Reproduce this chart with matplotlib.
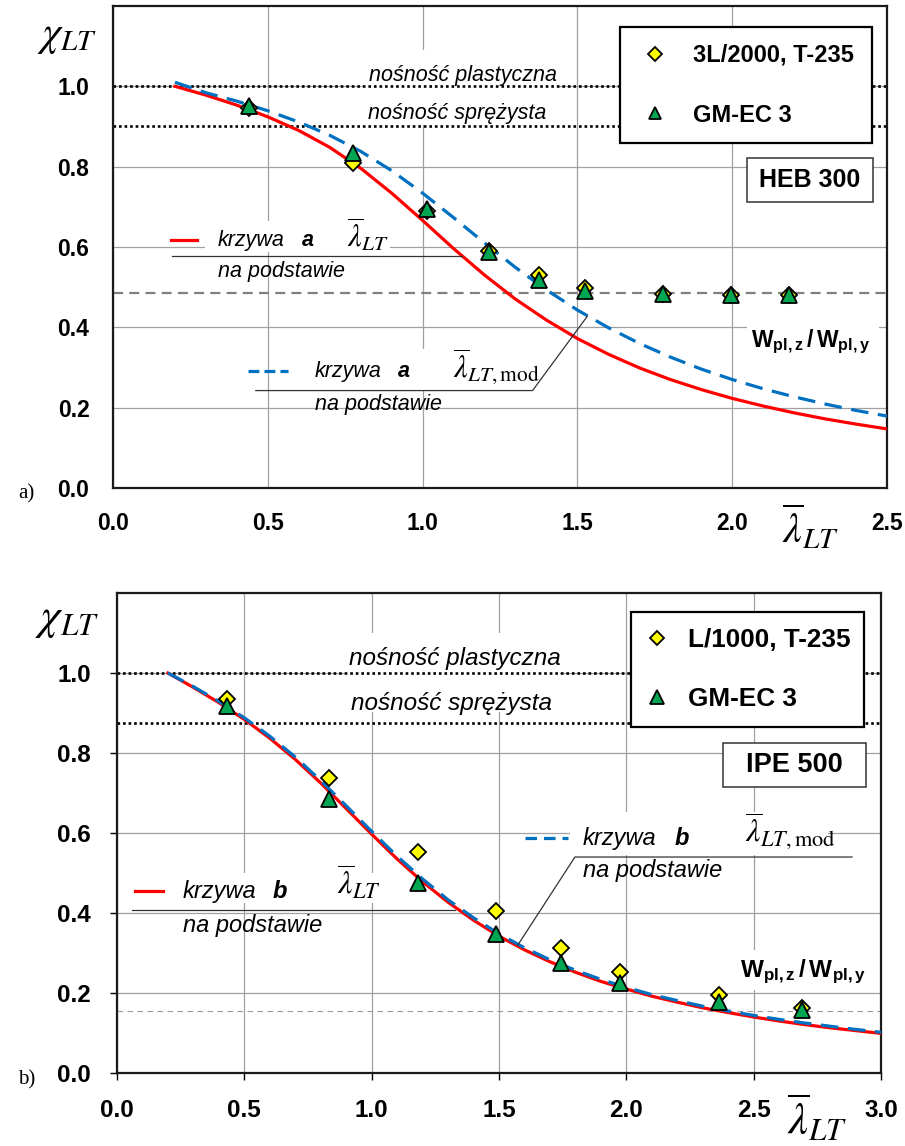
import matplotlib
matplotlib.use('Agg')
import matplotlib.pyplot as plt
from matplotlib.patches import Rectangle

plt.rcParams['font.family'] = ['Liberation Sans', 'DejaVu Sans']
plt.rcParams['mathtext.fontset'] = 'custom'
plt.rcParams['mathtext.rm'] = 'Liberation Sans:bold'
plt.rcParams['mathtext.bf'] = 'Liberation Sans:bold'
plt.rcParams['mathtext.it'] = 'Liberation Sans:bold:italic'

# ---- a) HEB 300 ----
lam_a = [0.2, 0.3, 0.4, 0.5, 0.6, 0.7, 0.8, 0.9, 1.0, 1.1, 1.2, 1.3,
         1.4, 1.5, 1.6, 1.7, 1.8, 1.9, 2.0, 2.1, 2.2, 2.3, 2.4, 2.5]
chi_a = [1.0, 0.978, 0.953, 0.924, 0.890, 0.848, 0.796, 0.734, 0.666, 0.596, 0.530, 0.470,
         0.418, 0.372, 0.333, 0.299, 0.270, 0.245, 0.223, 0.204, 0.187, 0.172, 0.159, 0.147]
chi_a_mod = [1.01, 0.984, 0.963, 0.939, 0.911, 0.878, 0.838, 0.790, 0.734, 0.673, 0.610, 0.549,
             0.493, 0.443, 0.399, 0.360, 0.326, 0.296, 0.270, 0.247, 0.227, 0.209, 0.193, 0.179]
lam_pts_a = [0.44, 0.775, 1.015, 1.215, 1.375, 1.525, 1.775, 1.995, 2.185]
chi_3l_2000 = [0.945, 0.81, 0.69, 0.59, 0.53, 0.497, 0.483, 0.48, 0.48]
chi_gm_a = [0.95, 0.835, 0.695, 0.587, 0.518, 0.49, 0.483, 0.48, 0.48]
w_ratio_a = 0.485
plast_a, elast_a = 1.0, 0.9

# ---- b) IPE 500 ----
lam_b = [0.2, 0.3, 0.4, 0.5, 0.6, 0.7, 0.8, 0.9, 1.0, 1.1, 1.2, 1.3, 1.4, 1.5, 1.6,
         1.7, 1.8, 1.9, 2.0, 2.1, 2.2, 2.3, 2.4, 2.5, 2.6, 2.7, 2.8, 2.9, 3.0]
chi_b = [1.0, 0.964, 0.926, 0.884, 0.837, 0.784, 0.725, 0.661, 0.597, 0.535, 0.478, 0.427,
         0.382, 0.342, 0.308, 0.278, 0.252, 0.229, 0.210, 0.192, 0.177, 0.163, 0.151, 0.140,
         0.130, 0.121, 0.113, 0.106, 0.099]
chi_b_mod = [1.0, 0.966, 0.929, 0.888, 0.842, 0.790, 0.731, 0.668, 0.604, 0.542, 0.485, 0.433,
             0.388, 0.348, 0.313, 0.283, 0.257, 0.234, 0.214, 0.196, 0.181, 0.167, 0.155, 0.144,
             0.134, 0.125, 0.117, 0.109, 0.102]
lam_pts_b = [0.432, 0.832, 1.18, 1.488, 1.743, 1.975, 2.364, 2.69]
chi_l_1000 = [0.935, 0.738, 0.553, 0.405, 0.313, 0.253, 0.195, 0.163]
chi_gm_b = [0.918, 0.685, 0.475, 0.348, 0.275, 0.225, 0.178, 0.158]
w_ratio_b = 0.155
plast_b, elast_b = 1.0, 0.875

RED = '#ff0000'
BLUE = '#0070c0'
YELLOW = '#ffff00'
GREEN = '#00a651'
LAM = r'$\overline{\lambda}_{LT}$'
LAM_MOD = r'$\overline{\lambda}_{LT,\mathrm{mod}}$'
W_RATIO = r'$\mathbf{W}_{\mathbf{pl,z}}\mathbf{\,/\,W}_{\mathbf{pl,y}}$'


def white_box(ax, x0, x1, y0, y1):
    ax.add_patch(Rectangle((x0, y0), x1 - x0, y1 - y0, facecolor='white',
                           edgecolor='none', zorder=1))


def name_box(ax, x0, x1, y0, y1, name, fs):
    ax.add_patch(Rectangle((x0, y0), x1 - x0, y1 - y0, transform=ax.transAxes,
                           facecolor='white', edgecolor='#333333', lw=1.1, zorder=7))
    ax.text((x0 + x1) / 2, (y0 + y1) / 2, name, transform=ax.transAxes, fontsize=fs,
            fontweight='bold', ha='center', va='center', zorder=8)


def setup(ax, xmax, fs, tick_len, pad):
    ax.set_xlim(0, xmax)
    ax.set_ylim(0, 1.2)
    ax.set_xticks([i * 0.5 for i in range(int(xmax / 0.5) + 1)])
    ax.set_yticks([0.0, 0.2, 0.4, 0.6, 0.8, 1.0])
    ax.xaxis.set_major_formatter('{x:.1f}')
    ax.yaxis.set_major_formatter('{x:.1f}')
    ax.set_axisbelow(True)
    ax.grid(True, color='#a0a0a0', lw=0.9)
    ax.tick_params(labelsize=fs, length=tick_len, width=1, pad=pad)
    for lab in ax.get_xticklabels() + ax.get_yticklabels():
        lab.set_fontweight('bold')
    for sp in ax.spines.values():
        sp.set_linewidth(1.6)
        sp.set_color('#1a1a1a')


def curves(ax, lam, chi, chi_mod, ratio, ratio_style, plast, elast):
    ax.axhline(plast, color='black', ls=(0, (1, 1.1)), lw=1.9, zorder=2)
    ax.axhline(elast, color='black', ls=(0, (1, 1.1)), lw=1.9, zorder=2)
    ax.axhline(ratio, zorder=2, **ratio_style)
    ax.plot(lam, chi, color=RED, lw=2.3, zorder=3)
    ax.plot(lam, chi_mod, color=BLUE, lw=2.3, dashes=(5.5, 3), zorder=3)


def points(ax, lam, chi_d, chi_t, ms, label_d):
    ax.plot(lam, chi_d, ls='none', marker='D', ms=ms * 0.72, mfc=YELLOW, mec='black',
            mew=1.3, zorder=5, label=label_d)
    ax.plot(lam, chi_t, ls='none', marker='^', ms=ms, mfc=GREEN, mec='black',
            mew=1.3, zorder=6, label='GM-EC 3')


fig = plt.figure(figsize=(9.05, 11.46), dpi=100)
ax1 = fig.add_axes([0.1249, 0.5742, 0.8552, 0.4206])
ax2 = fig.add_axes([0.1293, 0.0637, 0.8442, 0.4188])

# ================= a) =================
setup(ax1, 2.5, 16.5, 0, 17)
curves(ax1, lam_a, chi_a, chi_a_mod, w_ratio_a,
       dict(color='#808080', lw=1.6, dashes=(4.5, 2.8)), plast_a, elast_a)
points(ax1, lam_pts_a, chi_3l_2000, chi_gm_a, 11, '3L/2000, T-235')

white_box(ax1, 0.813, 1.442, 0.9025, 1.09)
ax1.text(1.129, 1.0125, 'nośność plastyczna', style='italic', fontsize=15.5, ha='center',
         va='baseline', zorder=1.5)
ax1.text(1.113, 0.9175, 'nośność sprężysta', style='italic', fontsize=15.5, ha='center',
         va='baseline', zorder=1.5)

# curve a, lambda_LT
white_box(ax1, 0.297, 0.894, 0.5875, 0.665)
ax1.plot([0.187, 0.271], [0.6175, 0.6175], color=RED, lw=2.3, zorder=3)
ax1.text(0.339, 0.615, 'krzywa', style='italic', fontsize=15.5, va='center')
ax1.text(0.61, 0.615, 'a', style='italic', fontweight='bold', fontsize=15.5, va='center')
ax1.text(0.755, 0.60, LAM, math_fontfamily='stix', fontsize=22, va='baseline')
ax1.plot([0.19, 1.126], [0.5775, 0.5775], color='#333333', lw=0.9, zorder=3)
ax1.text(0.339, 0.54, 'na podstawie', style='italic', fontsize=15.5, va='center')

# curve a, lambda_LT,mod
white_box(ax1, 0.6, 1.35, 0.245, 0.345)
ax1.plot([0.435, 0.565], [0.29, 0.29], color=BLUE, lw=2.3, dashes=(3.4, 1.6), zorder=3)
ax1.text(0.652, 0.29, 'krzywa', style='italic', fontsize=15.5, va='center')
ax1.text(0.919, 0.29, 'a', style='italic', fontweight='bold', fontsize=15.5, va='center')
ax1.text(1.097, 0.275, LAM_MOD, math_fontfamily='stix', fontsize=22, va='baseline')
ax1.plot([0.461, 1.355, 1.532], [0.2425, 0.2425, 0.4275], color='#333333', lw=0.9, zorder=3)
ax1.text(0.652, 0.2075, 'na podstawie', style='italic', fontsize=15.5, va='center')

white_box(ax1, 2.048, 2.474, 0.3325, 0.445)
ax1.text(2.255, 0.365, W_RATIO, fontsize=16.5, ha='center', va='center')

name_box(ax1, 0.819, 0.982, 0.593, 0.685, 'HEB 300', 18)
leg1 = ax1.legend(loc='upper left', bbox_to_anchor=(0.655, 0.714, 0.326, 0.242),
                  mode='expand', borderaxespad=0, markerscale=0.85, handlelength=1.56,
                  handletextpad=0.82, borderpad=0.71, labelspacing=1.55, fancybox=False,
                  edgecolor='black', framealpha=1, prop=dict(weight='bold', size=17))
leg1.get_frame().set_linewidth(1.6)

ax1.text(-0.059, 0.938, r'$\chi_{LT}$', math_fontfamily='stix', fontsize=30,
         transform=ax1.transAxes, ha='center', va='center')
ax1.text(0.9005, -0.083, LAM, math_fontfamily='stix', fontsize=30,
         transform=ax1.transAxes, ha='center', va='center')

# ================= b) =================
setup(ax2, 3.0, 17.5, 5, 14)
ax2.tick_params(direction='out')
curves(ax2, lam_b, chi_b, chi_b_mod, w_ratio_b,
       dict(color='#999999', lw=0.8, dashes=(5, 4)), plast_b, elast_b)
points(ax2, lam_pts_b, chi_l_1000, chi_gm_b, 12, 'L/1000, T-235')

white_box(ax2, 0.895, 1.739, 0.9025, 1.1)
ax2.text(1.327, 1.02, 'nośność plastyczna', style='italic', fontsize=17.5, ha='center',
         va='baseline', zorder=1.5)
ax2.text(1.315, 0.9075, 'nośność sprężysta', style='italic', fontsize=17.5, ha='center',
         va='baseline', zorder=1.5)

# curve b, lambda_LT
white_box(ax2, 0.188, 1.033, 0.425, 0.5)
ax2.plot([0.071, 0.181], [0.455, 0.455], color=RED, lw=2.3, zorder=3)
ax2.text(0.259, 0.455, 'krzywa', style='italic', fontsize=17, va='center')
ax2.text(0.612, 0.455, 'b', style='italic', fontweight='bold', fontsize=17, va='center')
ax2.text(0.864, 0.445, LAM, math_fontfamily='stix', fontsize=23, va='baseline')
ax2.plot([0.059, 1.327], [0.4075, 0.4075], color='#333333', lw=0.9, zorder=3)
ax2.text(0.259, 0.37, 'na podstawie', style='italic', fontsize=17, va='center')

# curve b, lambda_LT,mod
white_box(ax2, 1.779, 2.79, 0.545, 0.6525)
ax2.plot([1.602, 1.771], [0.5875, 0.5875], color=BLUE, lw=2.3, dashes=(3.6, 2.2), zorder=3)
ax2.text(1.83, 0.5875, 'krzywa', style='italic', fontsize=17, va='center')
ax2.text(2.19, 0.5875, 'b', style='italic', fontweight='bold', fontsize=17, va='center')
ax2.text(2.466, 0.5775, LAM_MOD, math_fontfamily='stix', fontsize=23, va='baseline')
ax2.plot([2.886, 1.798, 1.574], [0.54, 0.54, 0.32], color='#333333', lw=0.9, zorder=3)
ax2.text(1.83, 0.5075, 'na podstawie', style='italic', fontsize=17, va='center')

white_box(ax2, 2.42, 2.96, 0.2075, 0.3075)
ax2.text(2.693, 0.2525, W_RATIO, fontsize=17.5, ha='center', va='center')

name_box(ax2, 0.793, 0.980, 0.596, 0.6875, 'IPE 500', 19.5)
leg2 = ax2.legend(loc='upper left', bbox_to_anchor=(0.673, 0.714, 0.305, 0.246),
                  mode='expand', borderaxespad=0, markerscale=0.8, handlelength=0.8,
                  handletextpad=0.78, borderpad=0.6, labelspacing=1.35, fancybox=False,
                  edgecolor='black', framealpha=1, prop=dict(weight='bold', size=18.8))
leg2.get_frame().set_linewidth(1.6)

ax2.text(-0.065, 0.944, r'$\chi_{LT}$', math_fontfamily='stix', fontsize=32,
         transform=ax2.transAxes, ha='center', va='center')
ax2.text(0.916, -0.094, LAM, math_fontfamily='stix', fontsize=32,
         transform=ax2.transAxes, ha='center', va='center')

fig.text(0.02, 0.569, 'a)', family='Liberation Serif', fontsize=15, va='center')
fig.text(0.02, 0.0576, 'b)', family='Liberation Serif', fontsize=15, va='center')

fig.savefig('out.png', dpi=100)
